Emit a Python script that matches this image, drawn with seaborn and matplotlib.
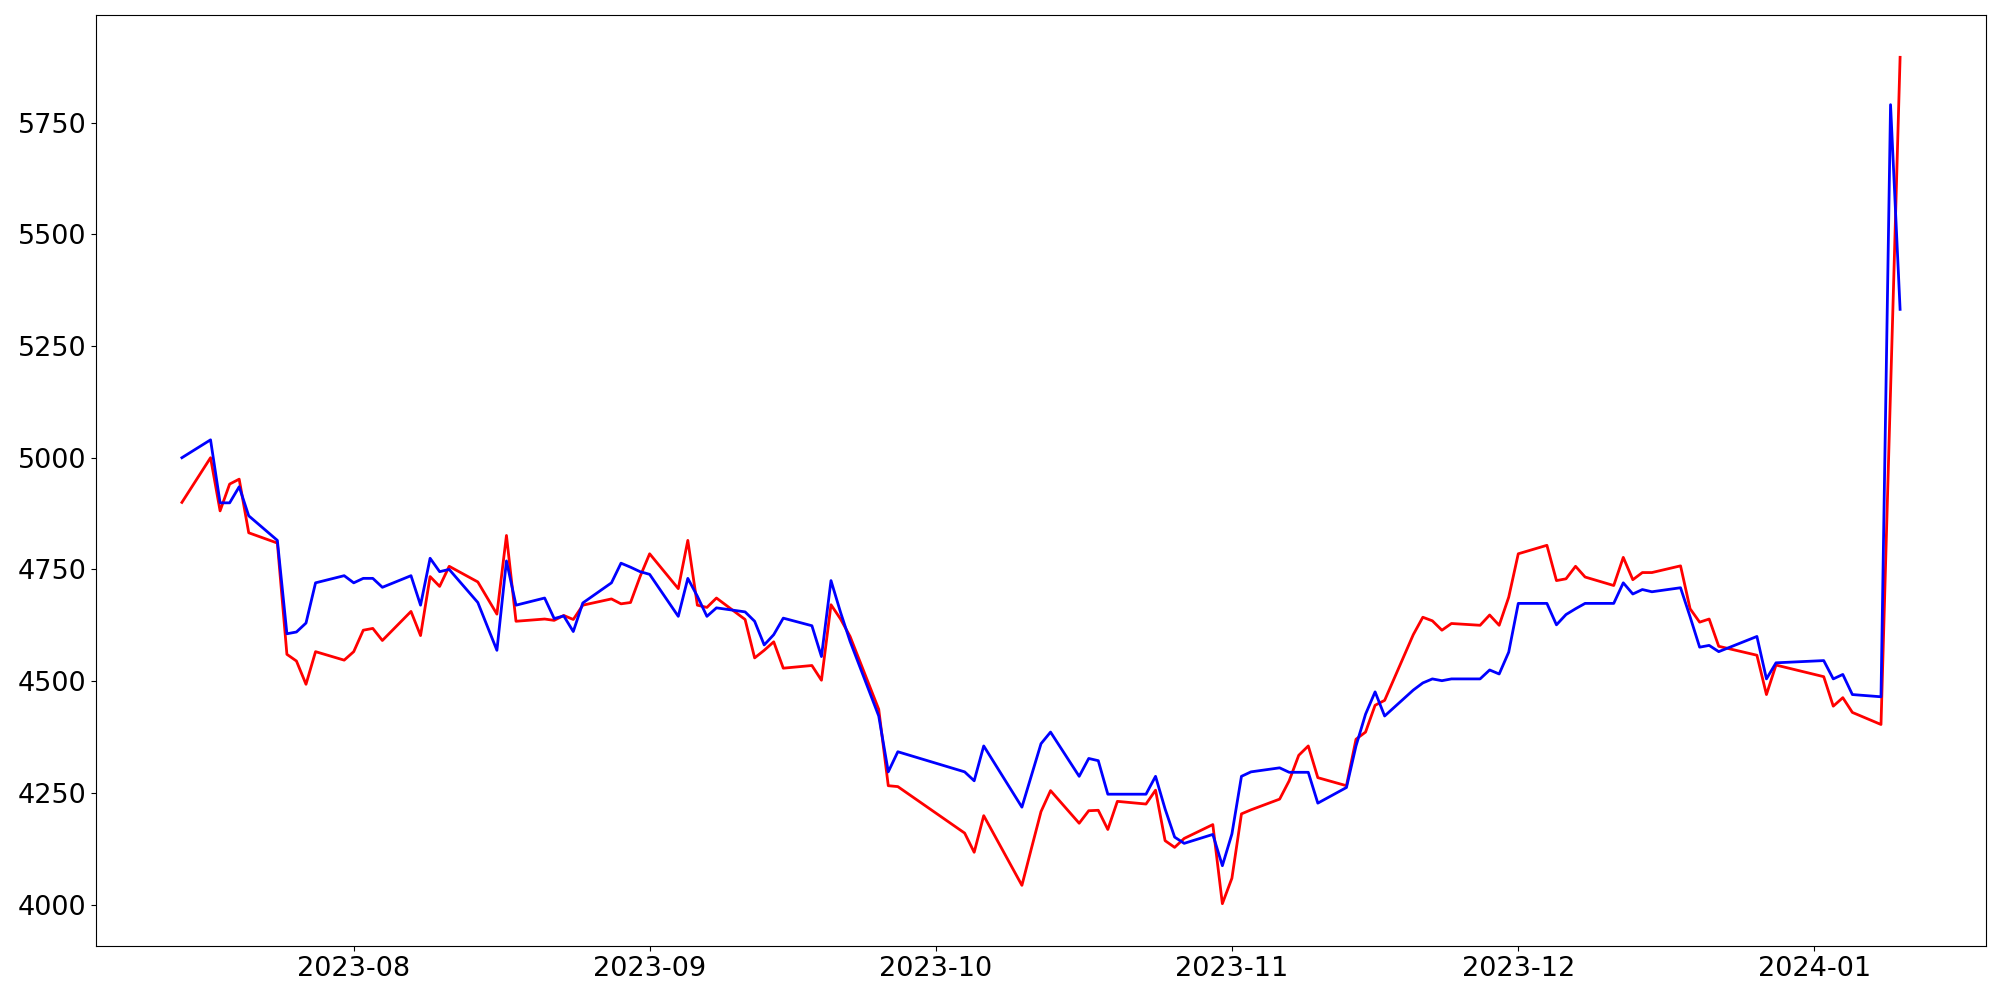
import pandas as pd
import seaborn as sns
import matplotlib.pyplot as plt

# trading days shown on the chart
dates = [
    '2023-07-14', '2023-07-17', '2023-07-18', '2023-07-19', '2023-07-20', '2023-07-21',
    '2023-07-24', '2023-07-25', '2023-07-26', '2023-07-27', '2023-07-28', '2023-07-31',
    '2023-08-01', '2023-08-02', '2023-08-03', '2023-08-04', '2023-08-07', '2023-08-08',
    '2023-08-09', '2023-08-10', '2023-08-11', '2023-08-14', '2023-08-16', '2023-08-17',
    '2023-08-18', '2023-08-21', '2023-08-22', '2023-08-23', '2023-08-24', '2023-08-25',
    '2023-08-28', '2023-08-29', '2023-08-30', '2023-08-31', '2023-09-01', '2023-09-04',
    '2023-09-05', '2023-09-06', '2023-09-07', '2023-09-08', '2023-09-11', '2023-09-12',
    '2023-09-13', '2023-09-14', '2023-09-15', '2023-09-18', '2023-09-19', '2023-09-20',
    '2023-09-21', '2023-09-22', '2023-09-25', '2023-09-26', '2023-09-27', '2023-10-04',
    '2023-10-05', '2023-10-06', '2023-10-10', '2023-10-11', '2023-10-12', '2023-10-13',
    '2023-10-16', '2023-10-17', '2023-10-18', '2023-10-19', '2023-10-20', '2023-10-23',
    '2023-10-24', '2023-10-25', '2023-10-26', '2023-10-27', '2023-10-30', '2023-10-31',
    '2023-11-01', '2023-11-02', '2023-11-03', '2023-11-06', '2023-11-07', '2023-11-08',
    '2023-11-09', '2023-11-10', '2023-11-13', '2023-11-14', '2023-11-15', '2023-11-16',
    '2023-11-17', '2023-11-20', '2023-11-21', '2023-11-22', '2023-11-23', '2023-11-24',
    '2023-11-27', '2023-11-28', '2023-11-29', '2023-11-30', '2023-12-01', '2023-12-04',
    '2023-12-05', '2023-12-06', '2023-12-07', '2023-12-08', '2023-12-11', '2023-12-12',
    '2023-12-13', '2023-12-14', '2023-12-15', '2023-12-18', '2023-12-19', '2023-12-20',
    '2023-12-21', '2023-12-22', '2023-12-26', '2023-12-27', '2023-12-28', '2024-01-02',
    '2024-01-03', '2024-01-04', '2024-01-05', '2024-01-08', '2024-01-09', '2024-01-10',
]

# red series
red_vals = [
    4900, 5000, 4881, 4941, 4952, 4832,
    4809, 4560, 4545, 4493, 4566, 4547,
    4566, 4614, 4618, 4591, 4656, 4602,
    4734, 4712, 4757, 4722, 4650, 4826,
    4634, 4639, 4636, 4647, 4638, 4670,
    4684, 4673, 4676, 4734, 4785, 4707,
    4815, 4670, 4665, 4686, 4638, 4552,
    4569, 4588, 4529, 4535, 4502, 4671,
    4639, 4600, 4437, 4266, 4264, 4160,
    4117, 4199, 4043, 4126, 4208, 4255,
    4182, 4210, 4211, 4168, 4231, 4225,
    4256, 4143, 4128, 4148, 4179, 4002,
    4059, 4203, 4212, 4236, 4277, 4334,
    4355, 4284, 4266, 4370, 4386, 4446,
    4457, 4604, 4643, 4635, 4614, 4629,
    4625, 4648, 4625, 4688, 4785, 4804,
    4725, 4729, 4757, 4733, 4714, 4777,
    4727, 4743, 4743, 4758, 4662, 4632,
    4639, 4578, 4558, 4470, 4536, 4510,
    4444, 4463, 4430, 4403, 5150, 5896,
]

# blue series
blue_vals = [
    5000, 5040, 4899, 4899, 4935, 4870,
    4815, 4606, 4610, 4630, 4720, 4736,
    4720, 4730, 4730, 4710, 4736, 4670,
    4775, 4745, 4750, 4676, 4569, 4769,
    4670, 4686, 4640, 4646, 4611, 4675,
    4720, 4764, 4755, 4745, 4739, 4645,
    4730, 4690, 4645, 4664, 4655, 4634,
    4581, 4604, 4641, 4624, 4555, 4725,
    4654, 4589, 4422, 4297, 4342, 4297,
    4277, 4355, 4218, 4289, 4360, 4386,
    4287, 4327, 4322, 4247, 4247, 4247,
    4287, 4214, 4151, 4137, 4157, 4087,
    4158, 4287, 4297, 4306, 4296, 4296,
    4296, 4227, 4262, 4355, 4426, 4476,
    4422, 4480, 4496, 4505, 4501, 4505,
    4505, 4525, 4516, 4565, 4674, 4674,
    4626, 4649, 4662, 4674, 4674, 4720,
    4695, 4705, 4700, 4709, 4644, 4576,
    4580, 4566, 4600, 4505, 4541, 4546,
    4505, 4515, 4470, 4465, 5790, 5332,
]

df = pd.DataFrame({'date': pd.to_datetime(dates), 'red': red_vals, 'blue': blue_vals})

fig, ax = plt.subplots(figsize=(20, 10), dpi=100)

sns.lineplot(data=df, x='date', y='red', color='red', linewidth=2, ax=ax)
sns.lineplot(data=df, x='date', y='blue', color='blue', linewidth=2, ax=ax)

ax.set_xlabel('')
ax.set_ylabel('')
ax.tick_params(axis='both', labelsize=19.5)

plt.subplots_adjust(left=0.048, right=0.993, top=0.985, bottom=0.054)
plt.savefig('out.png')
